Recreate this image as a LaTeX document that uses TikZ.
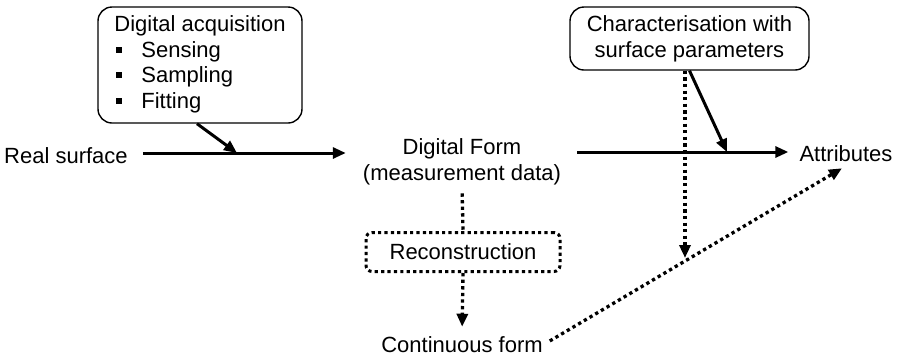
\documentclass[tikz,border=0pt]{standalone}
\usepackage{fontspec}
\setmainfont{Liberation Sans}
\usetikzlibrary{arrows.meta}
\begin{document}
\begin{tikzpicture}[x=1pt,y=-1pt,
  every node/.style={font=\fontsize{22}{26}\selectfont},
  txt/.style={inner sep=0pt},
  rbox/.style={draw, line width=1.4pt, rounded corners=14pt, inner sep=0pt},
  dbox/.style={draw, line width=3pt, dash pattern=on 3.2pt off 3.2pt, rounded corners=6pt, inner sep=0pt, minimum width=194pt, minimum height=39pt},
  sarr/.style={line width=3pt, -{Triangle[length=13pt,width=11pt]}},
  darr/.style={line width=3.3pt, dash pattern=on 3.3pt off 3.3pt, -{Triangle[length=13pt,width=11pt]}},
  dline/.style={line width=3.3pt, dash pattern=on 3.3pt off 3.3pt}]
\useasboundingbox (0,0) rectangle (898,357);

\node[txt] (real) at (66,156) {Real surface};
\node[txt, align=center] (dig) at (462,162) {Digital Form\\(measurement data)};
\node[txt] (attr) at (846,154) {Attributes};
\node[txt] (cont) at (462,345) {Continuous form};

\node[rbox, minimum width=204pt, minimum height=116pt] (acq) at (200,65)
  {\begin{tabular}{@{}l@{\hspace{19pt}}l@{}}
   \multicolumn{2}{@{}l@{}}{Digital acquisition}\\[-0.5pt]
   \hspace{2pt}\rule[4.5pt]{6pt}{6pt} & Sensing\\[-0.5pt]
   \hspace{2pt}\rule[4.5pt]{6pt}{6pt} & Sampling\\[-0.5pt]
   \hspace{2pt}\rule[4.5pt]{6pt}{6pt} & Fitting
   \end{tabular}};

\node[rbox, minimum width=239pt, minimum height=63pt, align=center] (char) at (689.5,38.5)
  {Characterisation with\\surface parameters};

\node[dbox] (rec) at (463,252) {Reconstruction};

\coordinate (j1) at (237,153);
\coordinate (j2) at (727,152);
\coordinate (d2) at (685,258);

\draw[sarr, shorten <=15pt, shorten >=17pt] (real.east |- j1) -- (dig.west |- j1);
\draw[sarr, shorten <=16pt, shorten >=11pt] (dig.east |- j2) -- (attr.west |- j2);
\draw[sarr] ([xshift=-3pt]acq.south) -- (j1);
\draw[sarr] (char.south) -- (j2);
\draw[darr] ([xshift=-4.5pt]char.south) -- (d2);
\draw[dline, shorten <=8pt] (dig.south) -- (rec.north);
\draw[darr, shorten >=10pt] (rec.south) -- (cont.north);
\draw[darr, shorten <=8pt] (cont.east) -- ([xshift=-4pt,yshift=-6pt]attr.south);
\end{tikzpicture}
\end{document}
